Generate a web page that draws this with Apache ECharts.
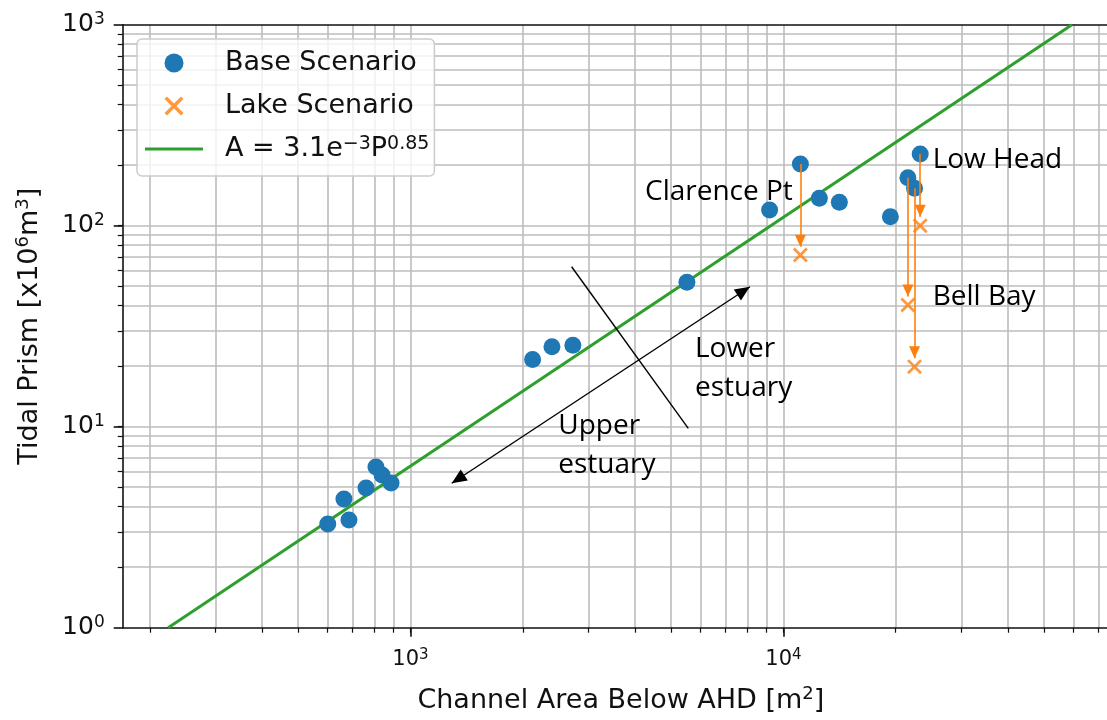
<!DOCTYPE html>
<html>
<head>
<meta charset="utf-8">
<script src="https://cdn.jsdelivr.net/npm/echarts@6/dist/echarts.min.js"></script>
<style>
html,body{margin:0;padding:0;background:#ffffff;}
#main{width:1107px;height:720px;}
</style>
</head>
<body>
<div id="main"></div>
<script>
// ---------------- data ----------------
const baseArea  = [600, 663, 684, 760, 808, 839, 887, 2125, 2395, 2725, 5510, 9180, 11100, 12480, 14120, 19350, 21560, 22460, 23260];
const basePrism = [3.28, 4.37, 3.43, 4.95, 6.30, 5.75, 5.25, 21.6, 25.0, 25.4, 52.3, 119.7, 203, 137, 130.7, 110.9, 173.3, 153.5, 227.4];

const lakeArea  = [11100, 21560, 22460, 23260];
const lakePrism = [71.5, 40.3, 19.9, 100];
// arrows: start at these base points, tip just above the lake point
const arrowBaseIndex = [12, 16, 17, 18];
const arrowTipPrism  = [78.6, 44.4, 21.9, 110.9];

const fitArea  = [224, 59370];
const fitPrism = [1, 1000];

const estuaryArrowArea  = [1290, 8128];
const estuaryArrowPrism = [5.23, 49.7];
const dividerArea  = [2704, 5557];
const dividerPrism = [62.5, 9.82];

const noteText  = ['Clarence Pt', 'Low Head', 'Bell Bay', 'Lower\nestuary', 'Upper\nestuary'];
const noteArea  = [4254, 25120, 25120, 5790, 2490];
const notePrism = [147.8, 212.3, 44.4, 19.5, 8.05];

const xMajorTicks = [1000, 10000];
const xTickExp    = ['3', '4'];
const xGridTicks  = [200, 300, 400, 500, 600, 700, 800, 900, 1000,
                     2000, 3000, 4000, 5000, 6000, 7000, 8000, 9000, 10000,
                     20000, 30000, 40000, 50000, 60000, 70000];
const yMajorTicks = [1, 10, 100, 1000];
const yTickExp    = ['0', '1', '2', '3'];
const yGridTicks  = [2, 3, 4, 5, 6, 7, 8, 9, 10,
                     20, 30, 40, 50, 60, 70, 80, 90, 100,
                     200, 300, 400, 500, 600, 700, 800, 900];

const xMin = 169.2, xMax = 73700;
const yMin = 1, yMax = 1000;

// ---------------- styling ----------------
const FONT = 'DejaVu Sans';
const NOTE_FONT = 'Open Sans';
const INK = '#111111';
const GRID_C = '#bcbcbc';
const BLUE = '#1f77b4', ORANGE = '#ff7f0e', GREEN = '#2ca02c';
const X_MARK = 'path://M0,2.6L2.6,0L20,17.4L17.4,20Z M17.4,0L20,2.6L2.6,20L0,17.4Z';
const LINE_ICON = 'path://M0,0H60V3.2H0Z';
const FIT_NAME = 'A = 3.1e-3 P^0.85';

function expOf(v, ticks, exps) {
  let best = 0, d = Infinity;
  ticks.forEach((t, i) => { const dd = Math.abs(Math.log10(v) - Math.log10(t)); if (dd < d) { d = dd; best = i; } });
  return exps[best];
}

const chart = echarts.init(document.getElementById('main'), null, {renderer: 'canvas'});

const supRich = (big, small, bigLH, smallLH) => ({
  b: {fontFamily: FONT, fontSize: big, color: INK, lineHeight: bigLH},
  n: {fontFamily: FONT, fontSize: big, color: INK, lineHeight: bigLH},
  s: {fontFamily: FONT, fontSize: small, color: INK, lineHeight: smallLH, verticalAlign: 'top'}
});

const option = {
  animation: false,
  backgroundColor: '#ffffff',
  grid: {
    left: 122.7, right: 0, top: 24.7, bottom: 92.3,
    show: false
  },
  legend: {
    show: true, orient: 'vertical', left: 137, top: 39, selectedMode: false,
    data: [
      {name: 'Base Scenario', icon: 'circle'},
      {name: 'Lake Scenario', icon: X_MARK},
      {name: FIT_NAME, icon: LINE_ICON}
    ],
    itemWidth: 58, itemHeight: 19, itemGap: 15,
    padding: [10, 5, 13, 8],
    backgroundColor: 'rgba(255,255,255,0.8)', borderColor: '#cccccc', borderWidth: 1.5, borderRadius: 5,
    formatter: function (name) {
      return name === FIT_NAME ? '{n|A = 3.1e}{s|\u22123}{n|P}{s|0.85}' : name;
    },
    textStyle: {
      fontFamily: FONT, fontSize: 27, color: INK, lineHeight: 28, padding: [0, 0, 0, 17],
      rich: supRich(27, 19, 28, 14)
    }
  },
  xAxis: [
    {
      type: 'log', logBase: 10, min: xMin, max: xMax, position: 'bottom',
      axisLine: {show: true, onZero: false, lineStyle: {color: INK, width: 1.6}},
      axisTick: {show: true, inside: false, length: 9, customValues: xMajorTicks, lineStyle: {color: INK, width: 1.6}},
      axisLabel: {
        show: true, customValues: xMajorTicks, margin: 20,
        formatter: v => '{b|10}{s|' + expOf(v, xMajorTicks, xTickExp) + '}',
        rich: supRich(21, 15, 24, 12)
      },
      splitLine: {show: false}, minorTick: {show: false}, minorSplitLine: {show: false},
      name: '{n|Channel Area Below AHD [m}{s|2}{n|]}', nameLocation: 'middle', nameGap: 58,
      nameTextStyle: {
        fontFamily: FONT, fontSize: 27, color: INK, padding: [0, 0, 0, 12],
        rich: supRich(27, 18, 30, 14)
      }
    },
    {
      type: 'log', logBase: 10, min: xMin, max: xMax, position: 'bottom',
      axisLine: {show: false},
      axisTick: {show: true, inside: false, length: 5, customValues: xGridTicks, lineStyle: {color: INK, width: 1.2}},
      axisLabel: {show: false},
      splitLine: {show: true, lineStyle: {color: GRID_C, width: 1.6}}
    },
    {
      type: 'log', logBase: 10, min: xMin, max: xMax, position: 'top',
      axisLine: {show: true, onZero: false, lineStyle: {color: INK, width: 1.6}},
      axisTick: {show: false}, axisLabel: {show: false}, splitLine: {show: false}
    }
  ],
  yAxis: [
    {
      type: 'log', logBase: 10, min: yMin, max: yMax, position: 'left',
      axisLine: {show: true, onZero: false, lineStyle: {color: INK, width: 1.6}},
      axisTick: {show: true, inside: false, length: 9, customValues: yMajorTicks, lineStyle: {color: INK, width: 1.6}},
      axisLabel: {
        show: true, customValues: yMajorTicks, margin: 18,
        formatter: v => '{b|10}{s|' + expOf(v, yMajorTicks, yTickExp) + '}',
        rich: supRich(25, 17, 28, 14)
      },
      splitLine: {show: false}, minorTick: {show: false}, minorSplitLine: {show: false},
      name: '{n|Tidal Prism [x10}{s|6}{n|m}{s|3}{n|]}', nameLocation: 'middle', nameGap: 78, nameRotate: 90,
      nameTextStyle: {
        fontFamily: FONT, fontSize: 27, color: INK,
        rich: supRich(27, 18, 30, 14)
      }
    },
    {
      type: 'log', logBase: 10, min: yMin, max: yMax, position: 'left',
      axisLine: {show: false},
      axisTick: {show: true, inside: false, length: 5, customValues: yGridTicks, lineStyle: {color: INK, width: 1.2}},
      axisLabel: {show: false},
      splitLine: {show: true, lineStyle: {color: GRID_C, width: 1.6}}
    }
  ],
  series: [
    {
      name: FIT_NAME, type: 'line', xAxisIndex: 0, yAxisIndex: 0,
      data: fitArea.map((x, i) => [x, fitPrism[i]]),
      symbol: 'none', showSymbol: false, silent: true, clip: true,
      lineStyle: {color: GREEN, width: 3}, itemStyle: {color: GREEN}, z: 2
    },
    {
      name: 'Base Scenario', type: 'scatter', xAxisIndex: 0, yAxisIndex: 0,
      data: baseArea.map((x, i) => [x, basePrism[i]]),
      symbol: 'circle', symbolSize: 17, itemStyle: {color: BLUE, opacity: 1}, silent: true, z: 3
    },
    {
      name: 'lake arrows', type: 'line', xAxisIndex: 0, yAxisIndex: 0, data: [], z: 4,
      markLine: {
        silent: true, animation: false,
        symbol: ['none', 'triangle'], symbolSize: [11, 12], symbolOffset: [[0, 0], [0, 6]],
        lineStyle: {color: ORANGE, width: 1.6, type: 'solid'}, itemStyle: {color: ORANGE},
        label: {show: false}, emphasis: {disabled: true},
        data: arrowBaseIndex.map((bi, i) => [
          {coord: [baseArea[bi], basePrism[bi]]},
          {coord: [baseArea[bi], arrowTipPrism[i]]}
        ])
      }
    },
    {
      name: 'Lake Scenario', type: 'scatter', xAxisIndex: 0, yAxisIndex: 0,
      data: lakeArea.map((x, i) => [x, lakePrism[i]]),
      symbol: X_MARK, symbolSize: 15, itemStyle: {color: ORANGE}, silent: true, z: 5
    },
    {
      name: 'estuary arrow', type: 'line', xAxisIndex: 0, yAxisIndex: 0, data: [], z: 5,
      markLine: {
        silent: true, animation: false,
        symbol: ['triangle', 'triangle'], symbolSize: [13, 15], symbolOffset: [[0, 7.5], [0, 7.5]],
        lineStyle: {color: '#000000', width: 1.4, type: 'solid'}, itemStyle: {color: '#000000'},
        label: {show: false}, emphasis: {disabled: true},
        data: [[
          {coord: [estuaryArrowArea[0], estuaryArrowPrism[0]]},
          {coord: [estuaryArrowArea[1], estuaryArrowPrism[1]]}
        ]]
      }
    },
    {
      name: 'divider', type: 'line', xAxisIndex: 0, yAxisIndex: 0, data: [], z: 5,
      markLine: {
        silent: true, animation: false, symbol: ['none', 'none'],
        lineStyle: {color: '#000000', width: 1.4, type: 'solid'},
        label: {show: false}, emphasis: {disabled: true},
        data: [[
          {coord: [dividerArea[0], dividerPrism[0]]},
          {coord: [dividerArea[1], dividerPrism[1]]}
        ]]
      }
    },
    {
      name: 'notes', type: 'scatter', xAxisIndex: 0, yAxisIndex: 0, z: 6, silent: true,
      data: noteText.map((t, i) => ({name: t, value: [noteArea[i], notePrism[i]]})),
      symbol: 'circle', symbolSize: 0, itemStyle: {color: INK},
      label: {
        show: true, position: [0, 0], align: 'left', verticalAlign: 'middle',
        formatter: p => p.name, fontFamily: NOTE_FONT, fontSize: 28, lineHeight: 39,
        color: '#000000', opacity: 1
      }
    }
  ]
};

chart.setOption(option);
</script>
</body>
</html>
